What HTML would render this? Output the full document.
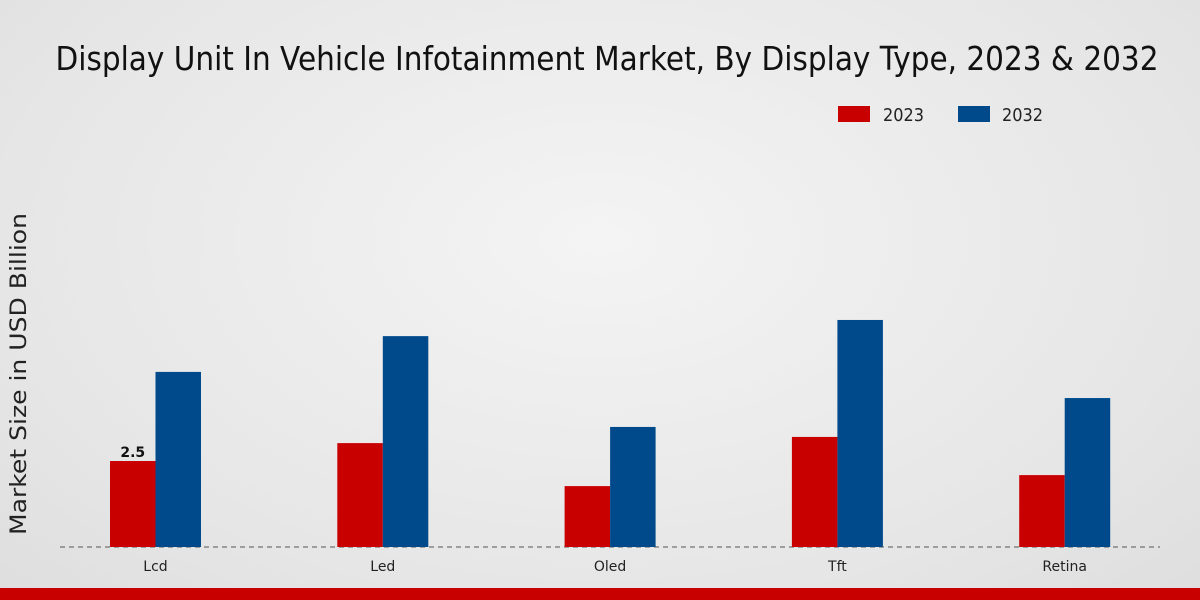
<!DOCTYPE html>
<html><head><meta charset="utf-8"><style>
html,body{margin:0;padding:0;width:1200px;height:600px;overflow:hidden}
body{background:radial-gradient(ellipse at 50% 40%,#f4f4f4 0%,#e6e6e6 70%,#dedede 100%);font-family:"DejaVu Sans","Liberation Sans",sans-serif}
</style></head><body>
<svg id="chart" width="1200" height="600" xmlns="http://www.w3.org/2000/svg">
<text x="607" y="70" text-anchor="middle" font-size="33" fill="#111" textLength="1103" lengthAdjust="spacingAndGlyphs">Display Unit In Vehicle Infotainment Market, By Display Type, 2023 &amp; 2032</text>
<g>
<rect x="838" y="106" width="32" height="16" fill="#c80000"/>
<text x="883" y="121" font-size="18" fill="#222" textLength="41" lengthAdjust="spacingAndGlyphs">2023</text>
<rect x="958" y="106" width="32" height="16" fill="#004a8c"/>
<text x="1002" y="121" font-size="18" fill="#222" textLength="41" lengthAdjust="spacingAndGlyphs">2032</text>
</g>
<text transform="translate(26,374) rotate(-90)" text-anchor="middle" font-size="22" fill="#222" textLength="322" lengthAdjust="spacingAndGlyphs">Market Size in USD Billion</text>
<line x1="60" y1="547" x2="1160" y2="547" stroke="#555" stroke-dasharray="5,4" stroke-width="1"/>
<g id="bars"></g>
<rect x="0" y="588" width="1200" height="12" fill="#c80000"/>
</svg>
<script>
const categories=["Lcd","Led","Oled","Tft","Retina"];
const values2023=[2.5,3.02,1.77,3.2,2.09];
const values2032=[5.09,6.13,3.49,6.6,4.33];
const labelShown=[true,false,false,false,false];
const baseY=547, pxPerUnit=34.4, x0=155.5, step=227.3, bw=45.5;
const yPos=v=>baseY-v*pxPerUnit;
const xPos=i=>x0+i*step;
const g=document.getElementById('bars');
const NS='http://www.w3.org/2000/svg';
categories.forEach((c,i)=>{
  const cx=xPos(i);
  const r=document.createElementNS(NS,'rect');
  
  
  r.setAttribute('x',cx-bw);r.setAttribute('y',yPos(values2023[i]));
  r.setAttribute('width',bw);r.setAttribute('height',baseY-yPos(values2023[i]));
  r.setAttribute('fill','#c80000');g.appendChild(r);
  const b=document.createElementNS(NS,'rect');
  
  
  b.setAttribute('x',cx);b.setAttribute('y',yPos(values2032[i]));
  b.setAttribute('width',bw);b.setAttribute('height',baseY-yPos(values2032[i]));
  b.setAttribute('fill','#004a8c');g.appendChild(b);
  const t=document.createElementNS(NS,'text');
  
  
  t.setAttribute('x',cx);t.setAttribute('y',571);t.setAttribute('text-anchor','middle');
  t.setAttribute('font-size','14');t.setAttribute('fill','#222');t.textContent=c;g.appendChild(t);
  if(labelShown[i]){
    const v=document.createElementNS(NS,'text');
    
    
    v.setAttribute('x',cx-bw/2);v.setAttribute('y',yPos(values2023[i])-4);
    v.setAttribute('text-anchor','middle');v.setAttribute('font-size','14');
    v.setAttribute('font-weight','bold');v.setAttribute('fill','#111');
    v.textContent=values2023[i];g.appendChild(v);
  }
});
</script>
</body></html>
